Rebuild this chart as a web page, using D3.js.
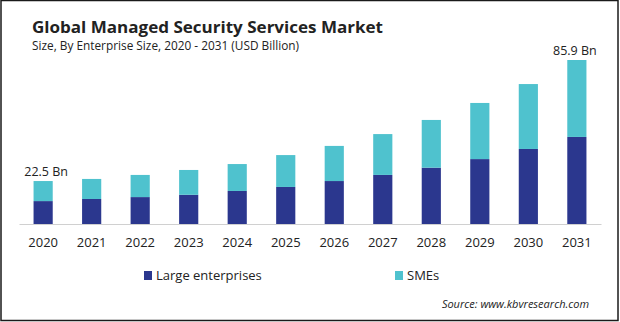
<!DOCTYPE html>
<html>
<head>
<meta charset="utf-8">
<script src="https://cdn.jsdelivr.net/npm/d3@7"></script>
<style>
  html, body { margin: 0; padding: 0; background: #fff; }
  svg text { font-family: "Open Sans", "Noto Sans", sans-serif; fill: #222; }
</style>
</head>
<body>
<div id="chart"></div>
<script>
// Market size by enterprise size, USD billion
const years = ['2020', '2021', '2022', '2023', '2024', '2025', '2026', '2027', '2028', '2029', '2030', '2031'];
const largeEnterprises = [12.0, 13.1, 14.1, 15.3, 17.3, 19.4, 22.5, 25.7, 29.5, 34.0, 39.3, 45.6];
const smes = [10.5, 10.5, 11.6, 13.0, 14.1, 16.7, 18.4, 21.4, 25.0, 29.4, 34.0, 40.3];
const seriesNames = ['Large enterprises', 'SMEs'];
const colors = ['#2b378e', '#4fc2ce'];
const endLabels = { '2020': '22.5 Bn', '2031': '85.9 Bn' };

const W = 620, H = 322;
const baseline = 224;

const svg = d3.select('#chart').append('svg')
  .attr('width', W)
  .attr('height', H);

// frame
svg.append('rect')
  .attr('x', 1).attr('y', 0.5)
  .attr('width', W - 3).attr('height', H - 2)
  .attr('fill', 'none')
  .attr('stroke', '#1a1a1a')
  .attr('stroke-width', 1.5);

// title block
svg.append('text')
  .attr('x', 32).attr('y', 33)
  .attr('font-size', 16).attr('font-weight', 700)
  .attr('fill', '#333')
  .attr('textLength', 351).attr('lengthAdjust', 'spacingAndGlyphs')
  .text('Global Managed Security Services Market');

svg.append('text')
  .attr('x', 32).attr('y', 50)
  .attr('font-size', 12)
  .attr('textLength', 267).attr('lengthAdjust', 'spacingAndGlyphs')
  .text('Size, By Enterprise Size, 2020 - 2031 (USD Billion)');

const rows = years.map((y, i) => ({ year: y, large: largeEnterprises[i], sme: smes[i] }));
const stack = d3.stack().keys(['large', 'sme'])(rows);

const x = d3.scaleBand()
  .domain(years)
  .range([19, 601])
  .paddingInner(0.605)
  .paddingOuter(0.3);

const y = d3.scaleLinear()
  .domain([0, 85.9])
  .range([baseline, 60]);

svg.append('g')
  .selectAll('g')
  .data(stack)
  .join('g')
  .attr('fill', (d, i) => colors[i])
  .selectAll('rect')
  .data(d => d)
  .join('rect')
  .attr('x', d => x(d.data.year))
  .attr('y', d => y(d[1]))
  .attr('width', x.bandwidth())
  .attr('height', d => y(d[0]) - y(d[1]));

// x axis
const axis = svg.append('g')
  .attr('transform', `translate(0,${baseline})`)
  .call(d3.axisBottom(x).tickSize(0).tickPadding(14).tickSizeOuter(0));
axis.select('.domain').attr('stroke', '#d0d0d0').attr('stroke-width', 1.2);
axis.selectAll('text')
  .attr('font-size', 13)
  .attr('font-family', '"Open Sans", sans-serif')
  .attr('fill', '#222');

// value labels on first and last bar
svg.append('g')
  .selectAll('text')
  .data(rows.filter(r => endLabels[r.year]))
  .join('text')
  .attr('x', d => x(d.year) + x.bandwidth() / 2 + (d.year === '2020' ? 3 : -2))
  .attr('y', d => y(d.large + d.sme) - 5)
  .attr('text-anchor', 'middle')
  .attr('font-size', 12.5)
  .text(d => endLabels[d.year]);

// legend
const legendX = [144, 395];
const legend = svg.append('g')
  .selectAll('g')
  .data(seriesNames)
  .join('g')
  .attr('transform', (d, i) => `translate(${legendX[i]},271)`);
legend.append('rect')
  .attr('width', 8).attr('height', 9)
  .attr('fill', (d, i) => colors[i]);
legend.append('text')
  .attr('x', 12).attr('y', 9)
  .attr('font-size', 13)
  .text(d => d);

svg.append('text')
  .attr('x', 589).attr('y', 308)
  .attr('text-anchor', 'end')
  .attr('font-size', 11)
  .attr('font-style', 'italic')
  .attr('fill', '#333')
  .text('Source: www.kbvresearch.com');
</script>
</body>
</html>
